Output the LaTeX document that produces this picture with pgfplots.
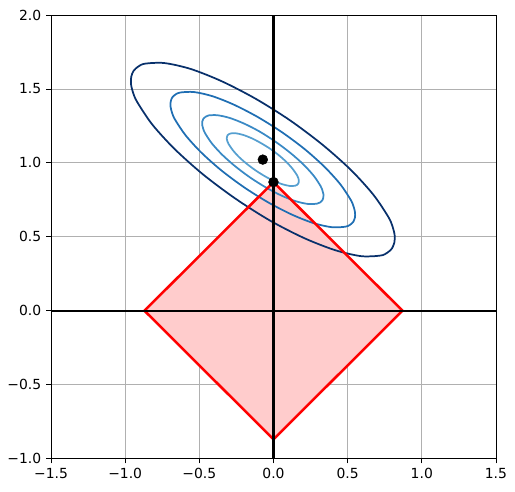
\documentclass[border=0pt]{standalone}
\usepackage{fontspec}
\setmainfont{DejaVu Sans}
\usepackage{pgfplots}
\pgfplotsset{compat=1.18}
\definecolor{c1}{HTML}{08306B}
\definecolor{c2}{HTML}{1F6EB3}
\definecolor{c3}{HTML}{3989C5}
\definecolor{c4}{HTML}{559FD0}
\definecolor{gridc}{HTML}{B0B0B0}
\begin{document}
\begin{tikzpicture}
\begin{axis}[
  scale only axis,
  width=320pt, height=319pt,
  xmin=-1.5, xmax=1.5, ymin=-1, ymax=2,
  xtick={-1.5,-1,-0.5,0,0.5,1,1.5},
  xticklabels={−1.5,−1.0,−0.5,0.0,0.5,1.0,1.5},
  ytick={-1,-0.5,0,0.5,1,1.5,2},
  yticklabels={−1.0,−0.5,0.0,0.5,1.0,1.5,2.0},
  tick align=outside,
  xtick pos=left, ytick pos=left,
  major tick length=3.5pt,
  tick style={black, line width=0.6pt},
  axis line style={black, line width=0.6pt},
  grid=major,
  major grid style={gridc, line width=0.6pt},
  ticklabel style={font=\fontsize{10}{12}\selectfont},
  clip=true,
]
% diamond fill
\addplot[draw=none, fill=red!20] coordinates {(0.87,0) (0,0.87) (-0.87,0) (0,-0.87) (0.87,0)} --cycle;
% ellipses
\addplot[c1, line width=1.25pt, smooth] coordinates {
(0.799,0.421) (0.815,0.461) (0.817,0.510) (0.803,0.569) (0.774,0.635) (0.673,0.785) (0.522,0.952) (0.330,1.123)
(0.111,1.288) (-0.121,1.434) (-0.349,1.552) (-0.558,1.635) (-0.735,1.675) (-0.866,1.671) (-0.911,1.652)
(-0.943,1.623) (-0.959,1.583) (-0.961,1.534) (-0.947,1.475) (-0.918,1.410) (-0.817,1.259) (-0.666,1.093) (-0.474,0.921)
(-0.255,0.757) (-0.024,0.610) (0.205,0.492) (0.414,0.410) (0.591,0.369) (0.722,0.373) (0.767,0.392)
(0.799,0.421) (0.815,0.461)};
\addplot[c2, line width=1.25pt, smooth] coordinates {
(0.538,0.601) (0.549,0.629) (0.550,0.664) (0.540,0.705) (0.520,0.751) (0.450,0.856) (0.344,0.973) (0.210,1.093)
(0.056,1.208) (-0.106,1.310) (-0.266,1.393) (-0.412,1.451) (-0.536,1.479) (-0.628,1.476) (-0.660,1.463)
(-0.682,1.443) (-0.693,1.415) (-0.694,1.380) (-0.684,1.339) (-0.664,1.293) (-0.594,1.188) (-0.488,1.071) (-0.354,0.951)
(-0.200,0.836) (-0.038,0.734) (0.122,0.651) (0.268,0.593) (0.392,0.565) (0.484,0.568) (0.516,0.581)
(0.538,0.601) (0.549,0.629)};
\addplot[c3, line width=1.25pt, smooth] coordinates {
(0.329,0.746) (0.336,0.764) (0.337,0.787) (0.330,0.813) (0.317,0.844) (0.271,0.913) (0.201,0.990) (0.113,1.068)
(0.012,1.144) (-0.094,1.212) (-0.199,1.266) (-0.296,1.304) (-0.377,1.322) (-0.437,1.321) (-0.458,1.312)
(-0.473,1.298) (-0.480,1.280) (-0.481,1.257) (-0.474,1.231) (-0.461,1.200) (-0.415,1.131) (-0.345,1.054) (-0.257,0.976)
(-0.156,0.900) (-0.050,0.833) (0.055,0.778) (0.152,0.740) (0.233,0.722) (0.293,0.724) (0.314,0.732)
(0.329,0.746) (0.336,0.764)};
\addplot[c4, line width=1.25pt, smooth] coordinates {
(0.166,0.858) (0.170,0.869) (0.171,0.882) (0.167,0.898) (0.159,0.916) (0.131,0.957) (0.090,1.003) (0.038,1.050)
(-0.022,1.095) (-0.085,1.134) (-0.148,1.167) (-0.205,1.189) (-0.253,1.200) (-0.289,1.199) (-0.301,1.194)
(-0.310,1.186) (-0.314,1.175) (-0.315,1.162) (-0.311,1.146) (-0.303,1.128) (-0.275,1.087) (-0.234,1.041) (-0.182,0.995)
(-0.122,0.950) (-0.059,0.910) (0.004,0.877) (0.061,0.855) (0.109,0.844) (0.145,0.845) (0.157,0.850)
(0.166,0.858) (0.170,0.869)};
% diamond edges
\addplot[red, line width=1.8pt, line join=miter] coordinates {(0.87,0) (0,0.87) (-0.87,0) (0,-0.87) (0.87,0)} --cycle;
% axes lines
\addplot[black, line width=1.5pt] coordinates {(-1.5,0) (1.5,0)};
\addplot[black, line width=1.5pt] coordinates {(0,-1) (0,2)};
% points
\addplot[only marks, mark=*, mark size=3.5pt, black] coordinates {(-0.072,1.022) (0,0.87)};
\end{axis}
\path (current axis.south west) ++(-36.7pt,-23.8pt) coordinate (bbA);
\path (current axis.north east) ++(13.7pt,10.8pt) coordinate (bbB);
\path (bbA) rectangle (bbB);
\end{tikzpicture}
\end{document}
